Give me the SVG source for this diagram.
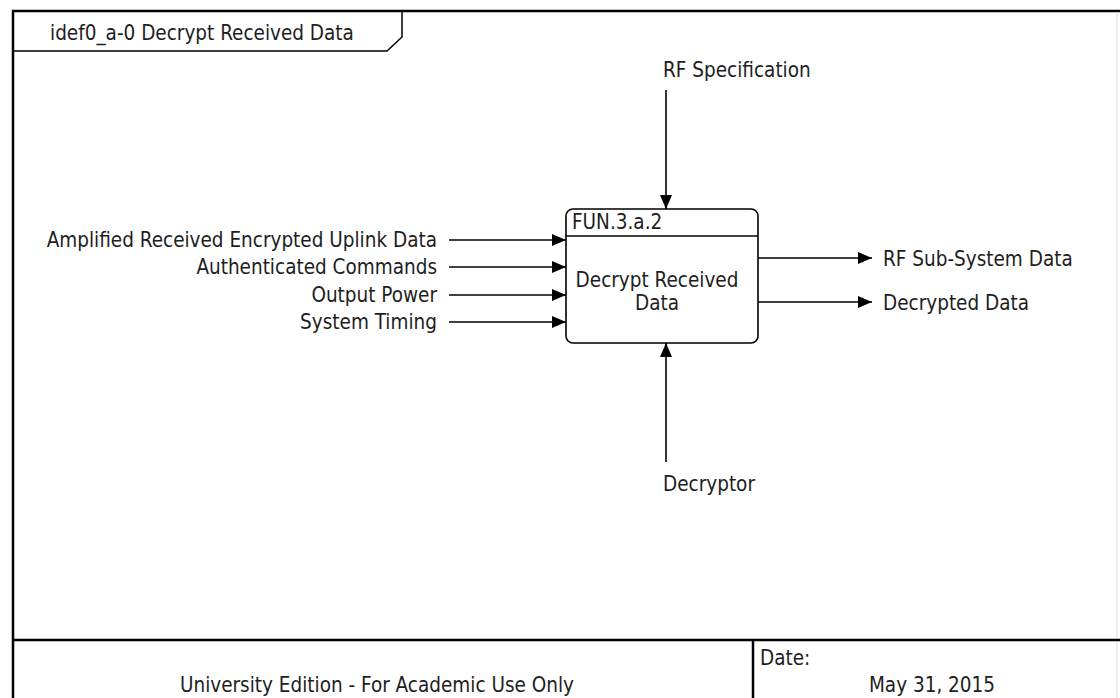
<svg xmlns="http://www.w3.org/2000/svg" width="1120" height="698" viewBox="0 0 1120 698">
<style>
text{font-family:"DejaVu Sans Condensed","Liberation Sans",sans-serif;font-size:20.5px;fill:#1e1e1e}
.ln{stroke:#000;stroke-width:1.6;fill:none}
.fr{stroke:#000;stroke-width:2.5;fill:none}
</style>
<defs>
<marker id="ah" viewBox="0 0 14 12" refX="14" refY="6" markerWidth="14" markerHeight="12" markerUnits="userSpaceOnUse" orient="auto">
<path d="M0,0 L14,6 L0,12 Z" fill="#000"/>
</marker>
</defs>
<rect width="1120" height="698" fill="#fff"/>
<g id="frame">
<line class="fr" x1="12" y1="11" x2="1120" y2="11"/>
<line class="fr" x1="13" y1="10" x2="13" y2="698"/>
<line x1="1117" y1="12" x2="1117" y2="698" stroke="#ddd" stroke-width="1"/>
<path d="M13,51 L387,51 L402,37 L402,11" stroke="#000" stroke-width="1.5" fill="none"/>
<text x="50" y="40">idef0_a-0 Decrypt Received Data</text>
<line class="fr" x1="12" y1="640" x2="1120" y2="640"/>
<line class="fr" x1="753" y1="640" x2="753" y2="698"/>
<text x="377" y="692" text-anchor="middle">University Edition - For Academic Use Only</text>
<text x="760" y="665">Date:</text>
<text x="932" y="692" text-anchor="middle">May 31, 2015</text>
</g>
<g id="connectors">
<line class="ln" x1="449" y1="240" x2="566" y2="240" marker-end="url(#ah)"/>
<line class="ln" x1="449" y1="267" x2="566" y2="267" marker-end="url(#ah)"/>
<line class="ln" x1="449" y1="295" x2="566" y2="295" marker-end="url(#ah)"/>
<line class="ln" x1="449" y1="322" x2="566" y2="322" marker-end="url(#ah)"/>
<line class="ln" x1="758" y1="258" x2="872" y2="258" marker-end="url(#ah)"/>
<line class="ln" x1="758" y1="302" x2="872" y2="302" marker-end="url(#ah)"/>
<line class="ln" x1="666" y1="90" x2="666" y2="209" marker-end="url(#ah)"/>
<line class="ln" x1="666" y1="462" x2="666" y2="343" marker-end="url(#ah)"/>
</g>
<g id="labels">
<text x="437" y="247" text-anchor="end">Amplified Received Encrypted Uplink Data</text>
<text x="437" y="274" text-anchor="end">Authenticated Commands</text>
<text x="437" y="302" text-anchor="end">Output Power</text>
<text x="437" y="329" text-anchor="end">System Timing</text>
<text x="883" y="266">RF Sub-System Data</text>
<text x="883" y="310">Decrypted Data</text>
<text x="663" y="77">RF Specification</text>
<text x="663" y="491">Decryptor</text>
</g>
<g id="node-fun3a2">
<rect x="566" y="209" width="192" height="134" rx="7" ry="7" fill="#fff" stroke="#000" stroke-width="1.6"/>
<line x1="566" y1="236" x2="758" y2="236" stroke="#000" stroke-width="1.6"/>
<text x="572" y="229">FUN.3.a.2</text>
<text x="657" y="287" text-anchor="middle">Decrypt Received</text>
<text x="657" y="310" text-anchor="middle">Data</text>
</g>
</svg>
